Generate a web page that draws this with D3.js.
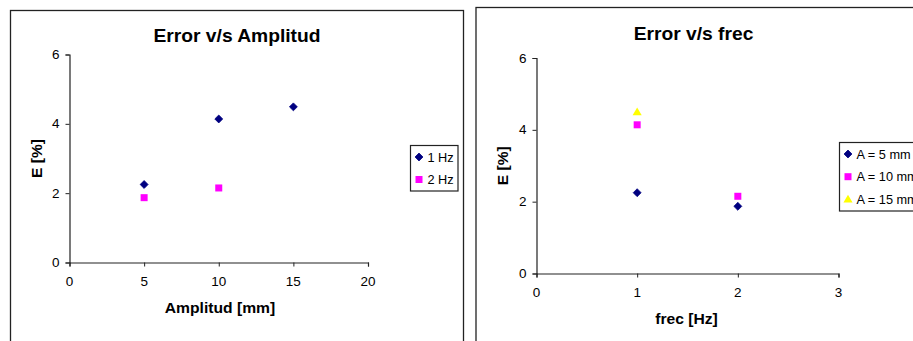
<!DOCTYPE html>
<html>
<head>
<meta charset="utf-8">
<script src="https://cdn.jsdelivr.net/npm/d3@7"></script>
<style>
  html, body { margin: 0; padding: 0; background: #fff; }
  svg { display: block; font-family: "Liberation Sans", Arial, sans-serif; }
</style>
</head>
<body>
<svg id="chart" width="913" height="341"></svg>
<script>
// Measured error E [%] for each amplitude / frequency combination
const amplitudes = [5, 10, 15];          // mm
const frequencies = [1, 2];              // Hz
const error1Hz = [2.25, 4.14, 4.49];     // E at 1 Hz for A = 5, 10, 15 mm
const error2Hz = [1.87, 2.15];           // E at 2 Hz for A = 5, 10 mm

// Same measurements grouped by amplitude
const errorA5 = [2.25, 1.87];            // A = 5 mm at 1, 2 Hz
const errorA10 = [4.14, 2.15];           // A = 10 mm at 1, 2 Hz
const errorA15 = [4.49];                 // A = 15 mm at 1 Hz

const ampTicks = [0, 5, 10, 15, 20];
const freqTicks = [0, 1, 2, 3];
const errTicks = [0, 2, 4, 6];

const leftSeries = [
  { name: "1 Hz", symbol: "diamond", color: "#000080", xs: amplitudes, ys: error1Hz },
  { name: "2 Hz", symbol: "square", color: "#FF00FF", xs: amplitudes.slice(0, 2), ys: error2Hz }
];
const rightSeries = [
  { name: "A = 5 mm", symbol: "diamond", color: "#000080", xs: frequencies, ys: errorA5 },
  { name: "A = 10 mm", symbol: "square", color: "#FF00FF", xs: frequencies, ys: errorA10 },
  { name: "A = 15 mm", symbol: "triangle", color: "#FFFF00", xs: frequencies.slice(0, 1), ys: errorA15 }
];

const svg = d3.select("#chart");
const SX = 1.08; // horizontal stretch of the lettering

function stretchedText(g, x, y, str, opts) {
  return g.append("text")
    .attr("transform", `translate(${x},${y}) scale(${opts.sx || SX},1)`)
    .attr("text-anchor", opts.anchor || "start")
    .attr("font-size", opts.size)
    .attr("font-weight", opts.bold ? "bold" : "normal")
    .attr("fill", "#000")
    .text(str);
}

function marker(g, symbol, color, x, y) {
  if (symbol === "diamond") {
    g.append("path").attr("d", d3.symbol(d3.symbolDiamond2, 40)())
      .attr("transform", `translate(${x},${y})`)
      .attr("fill", color).attr("stroke", color).attr("stroke-width", 0.8);
  } else if (symbol === "square") {
    g.append("rect").attr("x", x - 3.5).attr("y", y - 3.5).attr("width", 7).attr("height", 7)
      .attr("fill", color);
  } else {
    g.append("path").attr("d", d3.symbol(d3.symbolTriangle, 36)())
      .attr("transform", `translate(${x},${y + 0.5})`)
      .attr("fill", color);
  }
}

function drawChart(cfg) {
  const g = svg.append("g");
  // chart area border
  g.append("rect")
    .attr("x", cfg.frame[0]).attr("y", cfg.frame[1])
    .attr("width", cfg.frame[2]).attr("height", cfg.frame[3])
    .attr("fill", "#fff").attr("stroke", "#222").attr("stroke-width", 1.3);

  const x = d3.scaleLinear().domain(cfg.xDomain).range(cfg.xRange);
  const y = d3.scaleLinear().domain([0, 6]).range(cfg.yRange);

  const xAxis = g.append("g")
    .attr("transform", `translate(0,${cfg.yRange[0]})`)
    .call(d3.axisBottom(x).tickValues(cfg.xTicks).tickSize(4).tickFormat(d3.format("d")));
  const yAxis = g.append("g")
    .attr("transform", `translate(${cfg.xRange[0]},0)`)
    .call(d3.axisLeft(y).tickValues(errTicks).tickSize(4).tickFormat(d3.format("d")));
  [xAxis, yAxis].forEach(a => {
    a.select(".domain").attr("stroke", "#222").attr("stroke-width", 1.2);
    a.selectAll(".tick line").attr("stroke", "#222");
    a.selectAll(".tick text").remove();
  });

  // tick labels
  cfg.xTicks.forEach(v => stretchedText(g, x(v), cfg.yRange[0] + 23, String(v), { size: 12.5, anchor: "middle" }));
  errTicks.forEach(v => stretchedText(g, cfg.xRange[0] - 10, y(v) + 4.5, String(v), { size: 12.5, anchor: "end" }));

  // titles
  stretchedText(g, cfg.titleX, cfg.titleY, cfg.title, { size: 17.5, bold: true, anchor: "middle", sx: 1.1 });
  stretchedText(g, cfg.xTitleX, cfg.xTitleY, cfg.xTitle, { size: 14.5, bold: true, anchor: "middle" });
  g.append("text")
    .attr("transform", `translate(${cfg.yTitleX},${(cfg.yRange[0] + cfg.yRange[1]) / 2}) rotate(-90)`)
    .attr("text-anchor", "middle").attr("font-size", 15.5).attr("font-weight", "bold")
    .text("E [%]");

  // points
  cfg.series.forEach(s => {
    s.xs.forEach((xv, i) => marker(g, s.symbol, s.color, x(xv), y(s.ys[i])));
  });

  // legend
  const L = cfg.legend;
  g.append("rect").attr("x", L.x).attr("y", L.y).attr("width", L.w).attr("height", L.h)
    .attr("fill", "#fff").attr("stroke", "#222").attr("stroke-width", 1.2);
  cfg.series.forEach((s, i) => {
    const cy = L.y + L.first + i * L.step;
    marker(g, s.symbol, s.color, L.x + L.mx, cy);
    stretchedText(g, L.x + L.tx, cy + 4.5, s.name, { size: 12.5, sx: 1.02 });
  });
}

drawChart({
  frame: [10.5, 10.5, 453, 345],
  xDomain: [0, 20], xRange: [69.5, 368], yRange: [262.5, 54.5],
  xTicks: ampTicks, series: leftSeries,
  title: "Error v/s Amplitud", titleX: 237, titleY: 42,
  xTitle: "Amplitud [mm]", xTitleX: 220, xTitleY: 313,
  yTitleX: 42,
  legend: { x: 410.5, y: 145.5, w: 47.5, h: 45.5, first: 11.5, step: 22.5, mx: 8.5, tx: 17 }
});

drawChart({
  frame: [476, 7.5, 460, 345],
  xDomain: [0, 3], xRange: [536.5, 838.5], yRange: [273.5, 58],
  xTicks: freqTicks, series: rightSeries,
  title: "Error v/s frec", titleX: 693.5, titleY: 39.5,
  xTitle: "frec [Hz]", xTitleX: 686.5, xTitleY: 324,
  yTitleX: 508,
  legend: { x: 839.5, y: 142.5, w: 90, h: 68.5, first: 11.5, step: 22.7, mx: 8.5, tx: 17 }
});
</script>
</body>
</html>
